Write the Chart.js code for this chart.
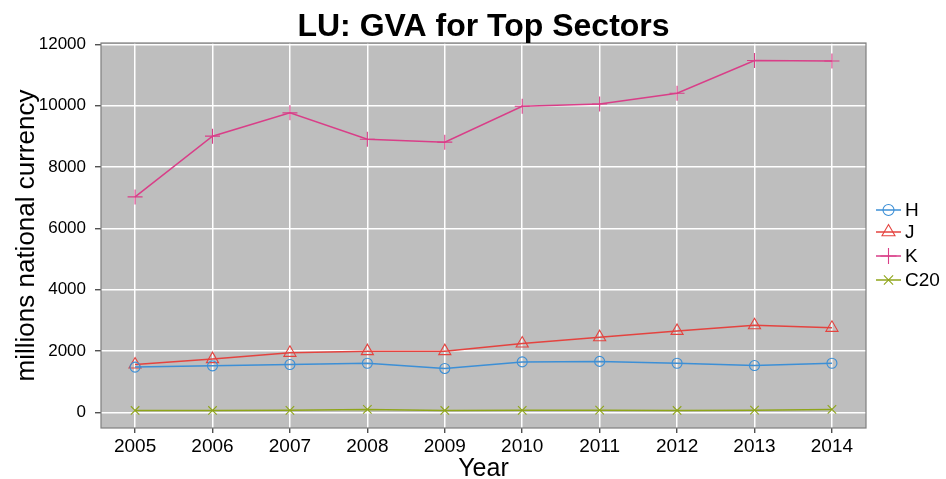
<!DOCTYPE html>
<html>
<head>
<meta charset="utf-8">
<script src="https://cdn.jsdelivr.net/npm/chart.js@4.4.1/dist/chart.umd.min.js"></script>
<style>
  html, body { margin: 0; padding: 0; background: #ffffff; }
  #wrap { width: 946px; height: 479px; }
</style>
</head>
<body>
<div id="wrap"><canvas id="c" width="946" height="479"></canvas></div>
<script>
const TITLE = "LU: GVA for Top Sectors";
const X_TITLE = "Year";
const Y_TITLE = "millions national currency";
const years = [2005, 2006, 2007, 2008, 2009, 2010, 2011, 2012, 2013, 2014];
const yTicks = [0, 2000, 4000, 6000, 8000, 10000, 12000];
const seriesNames = ["H", "J", "K", "C20"];
const H = [1480, 1520, 1565, 1605, 1435, 1650, 1665, 1605, 1530, 1605];
const J = [1565, 1740, 1945, 2000, 2000, 2250, 2455, 2660, 2845, 2760];
const K = [7030, 9010, 9770, 8910, 8815, 9985, 10060, 10410, 11475, 11460];
const C20 = [65, 65, 70, 100, 65, 70, 75, 65, 75, 100];
const colors = ["#3C8FD6", "#E4433F", "#D93E88", "#8FA51A"];
const markers = ["circle", "triangle", "cross", "crossRot"];
const radii = [5, 7, 7.5, 6];

const FONT = "'Liberation Sans', Arial, Helvetica, sans-serif";
const seriesValues = [H, J, K, C20];

const datasets = seriesNames.map((name, i) => ({
  label: name,
  data: years.map((yr, j) => ({ x: yr, y: seriesValues[i][j] })),
  borderColor: colors[i],
  backgroundColor: "rgba(0,0,0,0)",
  borderWidth: 1.5,
  pointStyle: markers[i],
  pointRadius: radii[i],
  pointHoverRadius: radii[i],
  pointBorderColor: colors[i],
  pointBackgroundColor: "rgba(0,0,0,0)",
  pointBorderWidth: 1.1,
  tension: 0
}));

const panelPlugin = {
  id: "panel",
  beforeDraw(chart) {
    const { ctx, chartArea: a } = chart;
    ctx.save();
    ctx.fillStyle = "#BEBEBE";
    ctx.fillRect(a.left, a.top, a.right - a.left, a.bottom - a.top);
    ctx.restore();
  },
  afterDraw(chart) {
    const { ctx, chartArea: a } = chart;
    ctx.save();
    ctx.strokeStyle = "#7F7F7F";
    ctx.lineWidth = 1.2;
    ctx.strokeRect(a.left, a.top, a.right - a.left, a.bottom - a.top);
    // title
    ctx.fillStyle = "#000";
    ctx.font = "bold 32px " + FONT;
    ctx.textAlign = "center";
    ctx.textBaseline = "alphabetic";
    ctx.fillText(TITLE, (a.left + a.right) / 2, 36);
    // legend
    const ly = [210, 232, 256, 280];
    chart.data.datasets.forEach((ds, i) => {
      const y = ly[i];
      ctx.strokeStyle = ds.borderColor;
      ctx.lineWidth = 1.5;
      ctx.beginPath();
      ctx.moveTo(876, y);
      ctx.lineTo(901, y);
      ctx.stroke();
      ctx.lineWidth = 1.1;
      ctx.fillStyle = "rgba(0,0,0,0)";
      Chart.helpers.drawPoint(ctx, { pointStyle: ds.pointStyle, radius: ds.pointRadius + 0.5, borderWidth: 1.1, rotation: 0 }, 888.5, y);
      ctx.fillStyle = "#000";
      ctx.font = "19px " + FONT;
      ctx.textAlign = "left";
      ctx.textBaseline = "middle";
      ctx.fillText(ds.label, 905, y + 1);
    });
    ctx.restore();
  }
};

new Chart(document.getElementById("c"), {
  type: "line",
  data: { datasets },
  options: {
    responsive: false,
    animation: false,
    devicePixelRatio: 1,
    layout: { padding: { left: 0, right: 80, top: 43, bottom: 0 } },
    plugins: { legend: { display: false }, title: { display: false }, tooltip: { enabled: false } },
    scales: {
      x: {
        type: "linear",
        min: 2004.56,
        max: 2014.44,
        afterBuildTicks: (s) => { s.ticks = years.map(v => ({ value: v })); },
        afterFit: (s) => { s.height = 51; },
        grid: { color: "#FFFFFF", lineWidth: 1.5, tickColor: "#333333", tickLength: 5, tickWidth: 1.2 },
        border: { display: false },
        ticks: { color: "#000", font: { family: FONT, size: 19 }, padding: 2, maxRotation: 0, autoSkip: false, callback: (v) => String(v) },
        title: { display: true, text: X_TITLE, color: "#000", font: { family: FONT, size: 25, lineHeight: 1.0 }, padding: { top: 0, bottom: -3 } }
      },
      y: {
        type: "linear",
        min: -506,
        max: 12048,
        afterBuildTicks: (s) => { s.ticks = yTicks.map(v => ({ value: v })); },
        afterFit: (s) => { s.width = 101; },
        grid: { color: "#FFFFFF", lineWidth: 1.5, tickColor: "#333333", tickLength: 6, tickWidth: 1.2 },
        border: { display: false },
        ticks: { color: "#000", font: { family: FONT, size: 17 }, padding: 9, autoSkip: false, callback: (v) => String(v) },
        title: { display: true, text: Y_TITLE, color: "#000", font: { family: FONT, size: 26 }, padding: { top: 11, bottom: 0 } }
      }
    }
  },
  plugins: [panelPlugin]
});
</script>
</body>
</html>
